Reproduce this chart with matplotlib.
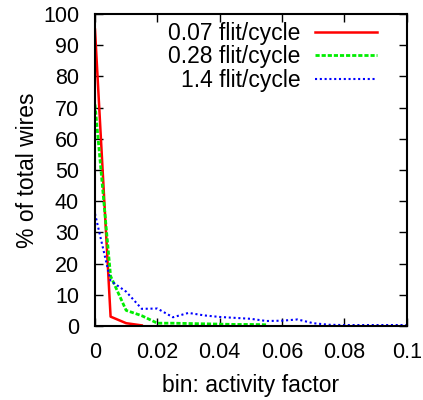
import matplotlib
matplotlib.use("Agg")
import matplotlib.pyplot as plt
import numpy as np

plt.rcParams['font.family'] = ['Liberation Sans', 'DejaVu Sans']

# bin centres (activity factor) and % of wires per bin
bins_red = [0.0, 0.005, 0.010, 0.015]
red = [95, 3.0, 0.9, 0.2]

bins_green = [0.0, 0.005, 0.010, 0.015, 0.020, 0.025, 0.030, 0.035, 0.040,
              0.045, 0.050, 0.055]
green = [71, 16, 5.0, 3.3, 0.9, 0.9, 0.8, 0.7, 0.6, 0.5, 0.5, 0.4]

bins_blue = [0.0, 0.005, 0.010, 0.015, 0.020, 0.025, 0.030, 0.035, 0.040,
             0.045, 0.050, 0.055, 0.060, 0.065, 0.070, 0.075, 0.080, 0.085,
             0.090, 0.095, 0.100]
blue = [36, 14.5, 11, 5.5, 5.6, 2.8, 4.2, 3.4, 2.9, 2.6, 2.3, 1.6, 1.7, 2.1,
        0.9, 0.4, 0.3, 0.3, 0.3, 0.3, 0.3]

labels = ['0.07 flit/cycle', '0.28 flit/cycle', '1.4 flit/cycle']

fig = plt.figure(figsize=(4.23, 4.0), dpi=100)
ax = fig.add_axes([95 / 423, 1 - 326 / 400, (406.7 - 95) / 423, 312 / 400])

ax.plot(bins_red, red, color='#ff0000', lw=1.8, label=labels[0])
ax.plot(bins_green, green, color='#00ee00', lw=2.0, linestyle=(0, (1.5, 0.7)),
        label=labels[1])
ax.plot(bins_blue, blue, color='#0000ff', lw=1.5, linestyle=(0, (1.0, 1.3)),
        label=labels[2])

ax.set_xlim(0, 0.1)
ax.set_ylim(0, 100)
ax.set_xticks([0, 0.02, 0.04, 0.06, 0.08, 0.1])
ax.set_xticklabels(['0', '0.02', '0.04', '0.06', '0.08', '0.1'])
ax.set_yticks(np.arange(0, 101, 10))
ax.tick_params(direction='in', length=6, width=1, top=True, right=True,
               labelsize=15.5)
ax.tick_params(axis='x', pad=11.5)
ax.tick_params(axis='y', pad=11.5)
for s in ax.spines.values():
    s.set_linewidth(1.5)

ax.set_xlabel('bin: activity factor', fontsize=16.5, labelpad=8)
ax.set_ylabel('% of total wires', fontsize=16.5, labelpad=3)

leg = ax.legend(loc='upper right', bbox_to_anchor=(0.905, 0.975),
                markerfirst=False, frameon=False, fontsize=16.5,
                handlelength=2.7, handletextpad=0.65, labelspacing=0.03,
                borderpad=0, borderaxespad=0)

fig.savefig('out.png', dpi=100)
